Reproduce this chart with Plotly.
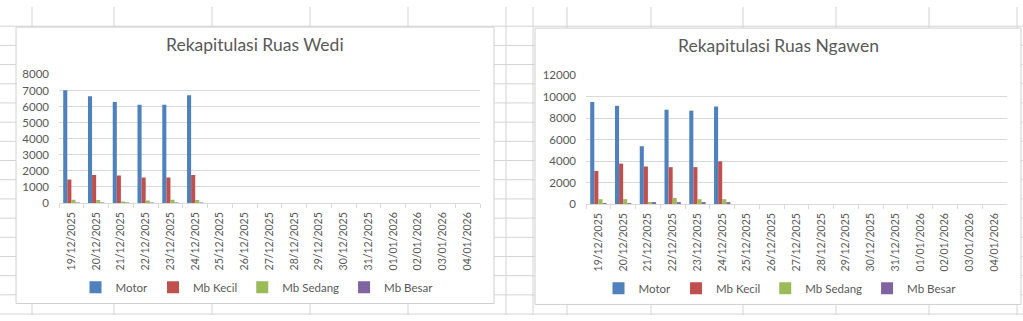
import plotly.graph_objects as go

W, H = 1023, 321

dates = ["19/12/2025", "20/12/2025", "21/12/2025", "22/12/2025", "23/12/2025",
         "24/12/2025", "25/12/2025", "26/12/2025", "27/12/2025", "28/12/2025",
         "29/12/2025", "30/12/2025", "31/12/2025", "01/01/2026", "02/01/2026",
         "03/01/2026", "04/01/2026"]

series_names = ["Motor", "Mb Kecil", "Mb Sedang", "Mb Besar"]
colors = ["#4F81BD", "#C0504D", "#9BBB59", "#8064A2"]

# Ruas Wedi
wedi_motor = [7020, 6650, 6290, 6110, 6110, 6700]
wedi_kecil = [1470, 1750, 1710, 1590, 1590, 1750]
wedi_sedang = [200, 190, 80, 150, 200, 190]
wedi_besar = [12, 10, 8, 10, 12, 10]

# Ruas Ngawen
ngawen_motor = [9500, 9140, 5380, 8780, 8690, 9080]
ngawen_kecil = [3080, 3760, 3490, 3430, 3430, 3970]
ngawen_sedang = [450, 450, 180, 570, 450, 450]
ngawen_besar = [20, 20, 90, 100, 90, 90]

titles = ["Rekapitulasi Ruas Wedi", "Rekapitulasi Ruas Ngawen"]
y_max = [8000, 12000]
y_dtick = [1000, 2000]


def pad(vals):
    return list(vals) + [None] * (len(dates) - len(vals))


def px(x):
    return x / W


def py(y):
    return 1 - y / H


TEXT = "#595959"
GRID = "#D9D9D9"
SHEET = "#D4D4D4"
FONT = "Lato, Carlito, Calibri, sans-serif"

fig = go.Figure()

data_sets = [
    [wedi_motor, wedi_kecil, wedi_sedang, wedi_besar],
    [ngawen_motor, ngawen_kecil, ngawen_sedang, ngawen_besar],
]

for c, dset in enumerate(data_sets):
    xa = "x" if c == 0 else "x2"
    ya = "y" if c == 0 else "y2"
    lg = "legend" if c == 0 else "legend2"
    for name, vals, col in zip(series_names, dset, colors):
        fig.add_trace(go.Bar(
            x=dates, y=pad(vals), name=name, marker=dict(color=col, line=dict(width=0)),
            xaxis=xa, yaxis=ya, legend=lg, hoverinfo="x+y+name",
        ))

# ---- spreadsheet background grid ----
shapes = []
for y in range(20, 321, 20):
    shapes.append(dict(type="line", xref="paper", yref="paper", x0=0, x1=1,
                       y0=py(y), y1=py(y), line=dict(color=SHEET, width=1), layer="below"))
for x in [32, 114, 212, 310, 408, 506, 533, 567, 651, 743, 836, 929, 1017]:
    shapes.append(dict(type="line", xref="paper", yref="paper", x0=px(x), x1=px(x),
                       y0=0, y1=1, line=dict(color=SHEET, width=1), layer="below"))

# chart frames
for (x0, y0, x1, y1) in [(16, 21, 494, 309), (535, 22, 1021, 310)]:
    shapes.append(dict(type="rect", xref="paper", yref="paper", x0=px(x0), x1=px(x1),
                       y0=py(y1), y1=py(y0), line=dict(color="#D0D0D0", width=1),
                       fillcolor="white", layer="below"))

annotations = [
    dict(text=titles[0], x=px(255), y=py(39), xref="paper", yref="paper",
         xanchor="center", yanchor="middle",
         showarrow=False, font=dict(family=FONT, size=17.5, color=TEXT)),
    dict(text=titles[1], x=px(778), y=py(40), xref="paper", yref="paper",
         xanchor="center", yanchor="middle",
         showarrow=False, font=dict(family=FONT, size=17.5, color=TEXT)),
]

xcommon = dict(type="category", categoryorder="array", categoryarray=dates,
               range=[-0.5, len(dates) - 0.5], showline=True, linecolor=GRID, linewidth=1,
               ticks="outside", tickson="boundaries", ticklen=4, tickcolor=GRID,
               tickangle=-90, showgrid=False, zeroline=False, ticklabelstandoff=4,
               tickfont=dict(family=FONT, size=10.5, color=TEXT), fixedrange=True)
ycommon = dict(showline=False, zeroline=False, gridcolor=GRID, gridwidth=1, ticks="",
               tickformat="d",
               tickfont=dict(family=FONT, size=11.5, color=TEXT), ticklabelstandoff=9,
               fixedrange=True)

legcommon = dict(orientation="h", xanchor="center", yanchor="middle",
                 font=dict(family=FONT, size=11.5, color=TEXT), bgcolor="rgba(0,0,0,0)",
                 itemwidth=30, itemclick=False, itemdoubleclick=False)

fig.update_layout(
    width=W, height=H, autosize=False,
    margin=dict(l=0, r=0, t=0, b=0, pad=0),
    paper_bgcolor="white", plot_bgcolor="rgba(0,0,0,0)",
    barmode="group", bargap=0.34, bargroupgap=0,
    shapes=shapes, annotations=annotations,
    xaxis=dict(domain=[px(59), px(480)], anchor="y", **xcommon),
    yaxis=dict(domain=[py(204.3), py(70.3)], anchor="x", range=[0, y_max[0]],
               dtick=y_dtick[0], **ycommon),
    xaxis2=dict(domain=[px(586), px(1007)], anchor="y2", **xcommon),
    yaxis2=dict(domain=[py(205.3), py(71)], anchor="x2", range=[0, y_max[1]],
                dtick=y_dtick[1], **ycommon),
    legend=dict(x=px(257), y=py(292), **legcommon),
    legend2=dict(x=px(780), y=py(293), **legcommon),
    showlegend=True,
)

fig.write_html("out.html")
